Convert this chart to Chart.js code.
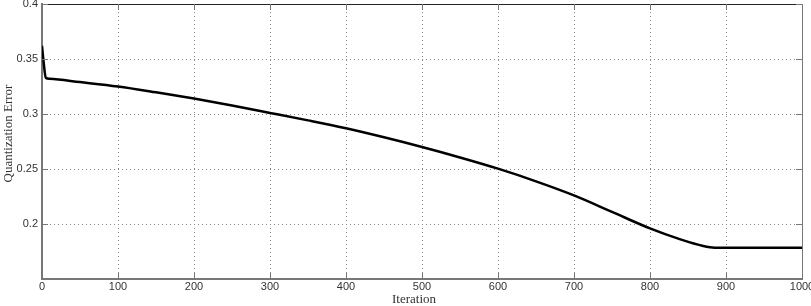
<!DOCTYPE html>
<html>
<head>
<meta charset="utf-8">
<script src="https://cdn.jsdelivr.net/npm/chart.js@4/dist/chart.umd.min.js"></script>
<style>
  html, body { margin: 0; padding: 0; background: #fff; }
  #wrap { width: 811px; height: 306px; }
</style>
</head>
<body>
<div id="wrap"><canvas id="chart" width="811" height="306"></canvas></div>
<script>
// values
const iterations = [0, 2, 5, 10, 50, 100, 150, 200, 250, 300, 350, 400, 450, 500, 550, 600, 650, 700, 750, 800, 840, 870, 885, 900, 950, 1000];
const quantError = [0.362, 0.348, 0.333, 0.332, 0.329, 0.325, 0.3197, 0.314, 0.3077, 0.301, 0.2942, 0.287, 0.2788, 0.270, 0.2605, 0.2503, 0.2388, 0.226, 0.211, 0.196, 0.186, 0.180, 0.1785, 0.1785, 0.1785, 0.1785];
const xTicks = [0, 100, 200, 300, 400, 500, 600, 700, 800, 900, 1000];
const yTicks = [0.2, 0.25, 0.3, 0.35, 0.4];
const xTitle = 'Iteration';
const yTitle = 'Quantization Error';

const points = iterations.map(function(x, i) { return { x: x, y: quantError[i] }; });

// dotted grid, drawn under the line
const gridPlugin = {
    id: 'dotgrid',
    beforeDatasetsDraw: function(chart) {
        const ctx = chart.ctx;
        const a = chart.chartArea;
        const xs = chart.scales.x, ys = chart.scales.y;
        ctx.save();
        ctx.strokeStyle = '#888';
        ctx.lineWidth = 1;
        ctx.setLineDash([1, 3]);
        xTicks.forEach(function(v) {
            if (v === 0 || v === 1000) return;
            const px = Math.round(xs.getPixelForValue(v)) + 0.5;
            ctx.beginPath();
            ctx.moveTo(px, a.top); ctx.lineTo(px, a.bottom);
            ctx.stroke();
        });
        yTicks.forEach(function(v) {
            if (v === 0.4) return;
            const py = Math.round(ys.getPixelForValue(v)) + 0.5;
            ctx.beginPath();
            ctx.moveTo(a.left, py); ctx.lineTo(a.right, py);
            ctx.stroke();
        });
        ctx.restore();
    }
};

// frame, inward tick marks and axis titles, matlab style
const framePlugin = {
    id: 'frame',
    afterDraw: function(chart) {
        const ctx = chart.ctx;
        const a = chart.chartArea;
        const xs = chart.scales.x, ys = chart.scales.y;
        ctx.save();
        ctx.lineWidth = 1;
        ctx.strokeStyle = '#777';
        ctx.beginPath();
        ctx.moveTo(a.right + 0.5, a.top);
        ctx.lineTo(a.right + 0.5, a.bottom);
        ctx.stroke();
        ctx.strokeStyle = '#222';
        ctx.beginPath();
        ctx.moveTo(a.left, a.top + 0.5);
        ctx.lineTo(a.right, a.top + 0.5);
        ctx.stroke();
        ctx.strokeStyle = '#777';
        xTicks.forEach(function(v) {
            const px = Math.round(xs.getPixelForValue(v)) + 0.5;
            ctx.beginPath();
            ctx.moveTo(px, a.bottom); ctx.lineTo(px, a.bottom - 6);
            ctx.moveTo(px, a.top); ctx.lineTo(px, a.top + 6);
            ctx.stroke();
        });
        yTicks.forEach(function(v) {
            const py = Math.round(ys.getPixelForValue(v)) + 0.5;
            ctx.beginPath();
            ctx.moveTo(a.left, py); ctx.lineTo(a.left + 6, py);
            ctx.moveTo(a.right, py); ctx.lineTo(a.right - 6, py);
            ctx.stroke();
        });

        ctx.fillStyle = '#333';
        ctx.font = '13px "Liberation Serif", "Times New Roman", serif';
        ctx.textAlign = 'center';
        ctx.textBaseline = 'middle';
        ctx.fillText(xTitle, (a.left + a.right) / 2 - 8, 300);
        ctx.translate(9, (a.top + a.bottom) / 2 - 8);
        ctx.rotate(-Math.PI / 2);
        ctx.fillText(yTitle, 0, 0);
        ctx.restore();
    }
};

const ctx = document.getElementById('chart').getContext('2d');
const qeChart = new Chart(ctx, {
    type: 'line',
    data: {
        datasets: [{
            data: points,
            borderColor: '#000',
            borderWidth: 2.5,
            pointRadius: 0,
            cubicInterpolationMode: 'monotone',
            fill: false
        }]
    },
    options: {
        responsive: false,
        animation: false,
        layout: { padding: { top: 4, right: 9, left: 0, bottom: 0 } },
        plugins: {
            legend: { display: false },
            tooltip: { enabled: false }
        },
        scales: {
            x: {
                type: 'linear',
                min: 0,
                max: 1000,
                afterBuildTicks: function(scale) {
                    scale.ticks = xTicks.map(function(v) { return { value: v }; });
                },
                afterFit: function(scale) {
                    scale.height = 27;
                    scale.paddingLeft = 0;
                    scale.paddingRight = 0;
                },
                grid: { display: false, drawTicks: false, tickLength: 0 },
                border: { display: true, color: '#777', width: 2 },
                ticks: {
                    color: '#333',
                    padding: 1,
                    maxRotation: 0,
                    autoSkip: false,
                    font: { family: 'Liberation Sans, Arial', size: 11 },
                    callback: function(v) { return String(v); }
                }
            },
            y: {
                min: 0.15,
                max: 0.4,
                afterBuildTicks: function(scale) {
                    scale.ticks = yTicks.map(function(v) { return { value: v }; });
                },
                afterFit: function(scale) {
                    scale.width = 42;
                    scale.paddingTop = 0;
                    scale.paddingBottom = 0;
                },
                grid: { display: false, drawTicks: false, tickLength: 0 },
                border: { display: true, color: '#777', width: 2 },
                ticks: {
                    color: '#333',
                    padding: 4,
                    autoSkip: false,
                    font: { family: 'Liberation Sans, Arial', size: 11 },
                    callback: function(v) { return String(Math.round(v * 100) / 100); }
                }
            }
        }
    },
    plugins: [gridPlugin, framePlugin]
});
</script>
</body>
</html>
